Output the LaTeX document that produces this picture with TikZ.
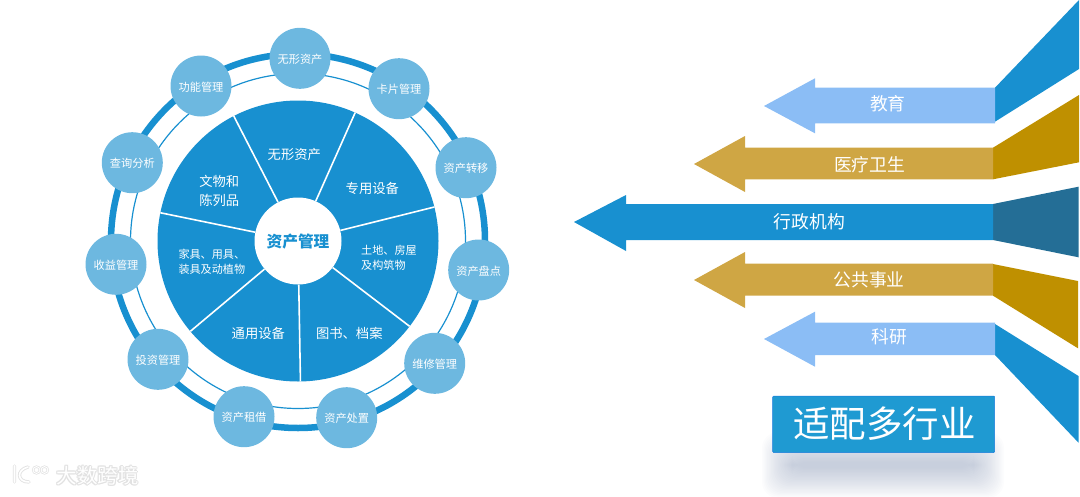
\documentclass[tikz,border=0pt]{standalone}
\usepackage{fontspec}
\setmainfont{Noto Sans CJK SC}
\usetikzlibrary{positioning}
\definecolor{WheelBlue}{HTML}{1890D0}
\definecolor{SatBlue}{HTML}{6DB8E0}
\definecolor{SkyArrow}{HTML}{8BBDF5}
\definecolor{GoldArrow}{HTML}{CFA644}
\definecolor{GoldFan}{HTML}{BF9000}
\definecolor{DeepFan}{HTML}{246E96}
\definecolor{BoxBlue}{HTML}{1F9AD2}
\definecolor{ShadowBlue}{HTML}{8090B0}
\definecolor{MarkGray}{HTML}{E2E2E2}
\newcommand{\lowered}[1]{\raisebox{-1pt}[\height][\depth]{#1}}
\tikzset{
    satellite/.style={circle, fill=SatBlue, text=white, inner sep=0pt, minimum size=61pt,
        font=\fontsize{11.2}{13}\selectfont},
    slicetext/.style={text=white, inner sep=0pt, align=center, yshift=-1pt,
        font=\fontsize{13.3}{18.7}\selectfont},
    slicesmall/.style={text=white, inner sep=0pt, align=left, yshift=-1pt,
        font=\fontsize{11.1}{15.4}\selectfont},
    spoke/.style={draw=white, line width=1.6pt},
    arrowtext/.style={text=white, inner sep=0pt, yshift=-1pt, font=\fontsize{17.8}{20}\selectfont},
    marktext/.style={inner sep=0pt, font=\fontsize{20.5}{22}\selectfont},
}
\begin{document}
\begin{tikzpicture}[x=1pt, y=-1pt]
\useasboundingbox (0,0) rectangle (1080,496);

% wheel
\node[circle, fill=WheelBlue, inner sep=0pt, minimum size=281pt] (pie) at (298,241) {};
\draw[WheelBlue, line width=6.5pt] (pie.center) circle (187pt);
\draw[WheelBlue, line width=1.2pt] (pie.center) circle (167.5pt);
\node[circle, fill=white, text=WheelBlue, inner sep=0pt, minimum size=87pt,
    font=\fontsize{15.7}{18}\selectfont\bfseries] (hub) at (pie.center) {\lowered{资产管理}};
\foreach \a in {66,14,-37.4,-89,-140,168.4,117.2}
    \draw[spoke] (hub) -- ++(\a:140.5pt);

\foreach \n/\x/\y/\t in {
    a/300/58.3/无形资产, b/399/88.7/卡片管理, c/466/167.7/资产转移,
    d/478.7/270/资产盘点, e/434.7/363.3/维修管理, f/346.7/417.7/资产处置,
    g/244/416.7/资产租借, h/158/359.3/投资管理, i/116/264.3/收益管理,
    j/132.3/162.7/查询分析, k/201/86/功能管理}
    \node[satellite] (sat\n) at (\x,\y) {\lowered{\t}};

% slices
\node[slicetext] (intangible) at (294.3,153.3) {无形资产};
\node[slicetext] (special) at (372.3,187.7) {专用设备};
\node[slicetext] (relics) at (219.3,190) {文物和\\陈列品};
\node[slicetext] (general) at (258.3,332.3) {通用设备};
\node[slicetext] (books) at (349.3,332.3) {图书、档案};
\node[slicesmall, anchor=west] (land) at (361,256.7) {土地、房屋\\及构筑物};
\node[slicesmall, anchor=west] (furniture) at (178.3,261) {家具、用具、\\装具及动植物};

% fan on the right edge
\fill[WheelBlue] (995,87.7) -- (1079,0) -- (1079,69) -- (995,121.7) -- cycle;
\fill[GoldFan] (993,147.7) -- (1079,95) -- (1079,162.3) -- (993,179.3) -- cycle;
\fill[DeepFan] (993,204) -- (1078.5,186.7) -- (1078.5,257.3) -- (993,240) -- cycle;
\fill[GoldFan] (993,264) -- (1078,281) -- (1078,348.3) -- (993,295.7) -- cycle;
\fill[WheelBlue] (995,324) -- (1078.5,376) -- (1078.5,442.7) -- (995,355) -- cycle;

% arrows
\foreach \c/\tipx/\basex/\endx/\top/\bot/\ha/\hb/\tipy in {
    SkyArrow/764/815/995/87.7/123.3/78.3/133.3/106,
    GoldArrow/694/745/993/147.7/179.3/136/192/164,
    WheelBlue/574/626/993/204/240/195/251/222,
    GoldArrow/694/745/993/263.5/295.7/252/308/280,
    SkyArrow/764/815/995/322.7/355/311.7/366.7/339}
    \fill[\c] (\tipx,\tipy) -- (\basex,\ha) -- (\basex,\top) -- (\endx,\top)
        -- (\endx,\bot) -- (\basex,\bot) -- (\basex,\hb) -- cycle;

\node[arrowtext] (edu) at (887.8,102.7) {教育};
\node[arrowtext] (medical) at (869.7,163.3) {医疗卫生};
\node[arrowtext] (admin) at (809.3,221) {行政机构};
\node[arrowtext] (public) at (869,278.3) {公共事业};
\node[arrowtext] (research) at (889.3,335.7) {科研};

% caption box with its soft shadow
\foreach \i in {0,...,23}
    \fill[ShadowBlue, fill opacity=0.025, rounded corners=16pt]
        (762+1.3*\i,432+1.3*\i) rectangle (1004-1.3*\i,498-1.3*\i);
\node[fill=BoxBlue, draw=BoxBlue!80!blue, line width=0.5pt, rounded corners=1pt,
    inner sep=0pt, minimum width=222pt, minimum height=56.5pt] (caption) at (883.7,424.3) {};
\node[text=white, inner sep=0pt, font=\fontsize{36.5}{38}\selectfont] (captiontext) at (884.5,423.5) {适配多行业};

% watermark
\foreach \dx/\dy [count=\j] in {-1/0,1/0,0/-1,0/1,-.7/-.7,.7/.7,-.7/.7,.7/-.7}
    \node[marktext, text=MarkGray] (markbg\j) at (97.5+\dx,475.5+\dy) {大数跨境};
\node[marktext, text=white] (mark) at (97.5,475.5) {大数跨境};
\draw[MarkGray, line width=3.4pt, line cap=round] (14.5,466) -- (14.5,482)
    (28,467) .. controls (16,470) and (17,482) .. (29,482);
\draw[white, line width=1.6pt, line cap=round] (14.5,466) -- (14.5,482)
    (28,467) .. controls (16,470) and (17,482) .. (29,482);
\foreach \x in {36.5,44.5}{
    \draw[MarkGray, line width=2.4pt] (\x,470) circle (3.4pt);
    \draw[white, line width=.9pt] (\x,470) circle (3.4pt);
}
\end{tikzpicture}
\end{document}
